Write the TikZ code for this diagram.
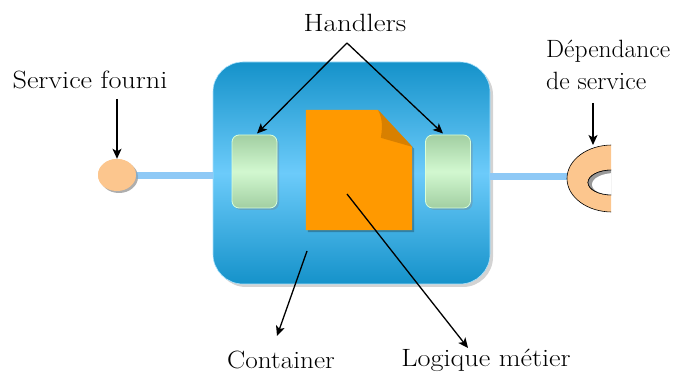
\documentclass[tikz,border=0pt]{standalone}
\usepackage{fontspec}
\usetikzlibrary{arrows.meta,shapes.geometric,shadows,calc}
\definecolor{bluedark}{HTML}{1592CA}
\definecolor{bluelight}{HTML}{6CCBFA}
\definecolor{linkblue}{HTML}{8EC9F6}
\definecolor{greendark}{HTML}{A2CFA2}
\definecolor{greenlight}{HTML}{D2F8D0}
\definecolor{peach}{HTML}{FCC68E}
\definecolor{orangedoc}{HTML}{FF9900}
\definecolor{orangefold}{HTML}{D88000}
\newcommand{\wt}[2]{\scalebox{#1}[1]{#2}}
\begin{document}
\begin{tikzpicture}[x=1pt,y=-1pt,
  lbl/.style={font=\fontsize{25}{30}\selectfont, inner sep=0pt},
  arr/.style={-{Stealth[length=10pt,width=9pt,inset=2.5pt]}, line width=1.3pt, black},
  link/.style={line width=7pt, linkblue},
  containerbox/.style={rectangle, rounded corners=30pt, minimum width=277pt, minimum height=222pt,
     top color=bluedark, bottom color=bluedark, middle color=bluelight, draw=bluelight!60!white, line width=0.6pt,
     drop shadow={shadow xshift=3pt, shadow yshift=-3pt, opacity=0.35}},
  handlerbox/.style={rectangle, rounded corners=7pt, minimum width=45pt, minimum height=73pt,
     top color=greendark, bottom color=greendark, middle color=greenlight, draw=white!85!green, line width=0.8pt,
     drop shadow={shadow xshift=2pt, shadow yshift=-2pt, opacity=0.35}},
  portcircle/.style={ellipse, minimum width=38pt, minimum height=32pt, fill=peach,
     drop shadow={shadow xshift=2pt, shadow yshift=-2pt, opacity=0.4}},
]
\useasboundingbox (0,0) rectangle (678,374);

% connectors (blue)
\node[portcircle] (sf) at (117,175) {};
\coordinate (dep) at (568,177);
\node[containerbox] (cont) at (351.5,173) {};
\draw[link] (sf.east |- 0,176) -- (cont.west |- 0,176);
\draw[link] (cont.east |- 0,177) -- (dep);
\node[portcircle] at (117,175) {};

% handlers
\node[handlerbox] (hl) at (254.5,171.5) {};
\node[handlerbox] (hr) at (448,171.5) {};

% document
\node[minimum width=106pt, minimum height=120pt, inner sep=0pt] (doc) at (359,170) {};
\fill[black, opacity=0.25] ($(doc.north west)+(2,2)$) -- ($(doc.north west)+(74,2)$) -- ($(doc.north east)+(2,39)$) -- ($(doc.south east)+(2,2)$) -- ($(doc.south west)+(2,2)$) -- cycle;
\fill[orangedoc] (doc.north west) -- ($(doc.north west)+(72,0)$) -- ($(doc.north east)+(0,37)$) -- (doc.south east) -- (doc.south west) -- cycle;
\fill[orangefold] ($(doc.north west)+(72,0)$) .. controls ($(doc.north west)+(78,10)$) and ($(doc.north west)+(76,22)$) .. ($(doc.north west)+(75,28)$) -- ($(doc.north east)+(0,37)$) -- cycle;

% dependance ring
\begin{scope}
  \clip (560,130) rectangle (611,230);
  \fill[peach, draw=black, line width=0.6pt, even odd rule] (612,178.5) ellipse [x radius=45, y radius=33.5]
     (612,182.5) ellipse [x radius=24, y radius=12.5];
  \begin{scope}
    \clip (612,182.5) ellipse [x radius=24, y radius=12.5];
    \fill[gray!80] (612,182.5) ellipse [x radius=24, y radius=12.5];
    \fill[white] (615,184.5) ellipse [x radius=23, y radius=11.5];
  \end{scope}
  \draw[black, line width=0.6pt] (612,182.5) ellipse [x radius=24, y radius=12.5];
\end{scope}

% labels
\node[lbl] (tsf) at (90,80) {\wt{1.13}{Service fourni}};
\node[lbl] (th) at (355,23) {\wt{1.16}{Handlers}};
\node[lbl, align=left, anchor=north west] (tdep) at (546,40) {\wt{1.02}{Dépendance}\\[2pt]\wt{1.03}{de service}};
\node[lbl] (tc) at (281,360) {\wt{1.09}{Container}};
\node[lbl] (tl) at (486,360) {\wt{1.13}{Logique métier}};

% arrows
\coordinate (apex) at (347,43);
\draw[arr] (apex) -- (257,133.5);
\draw[arr] (apex) -- (443,133.5);
\draw[arr] (117,99) -- (sf.north);
\draw[arr] (593,103) -- (593,145);
\draw[arr] (307,251) -- (277,336);
\draw[arr] (347,194) -- (468,348);
\end{tikzpicture}
\end{document}
